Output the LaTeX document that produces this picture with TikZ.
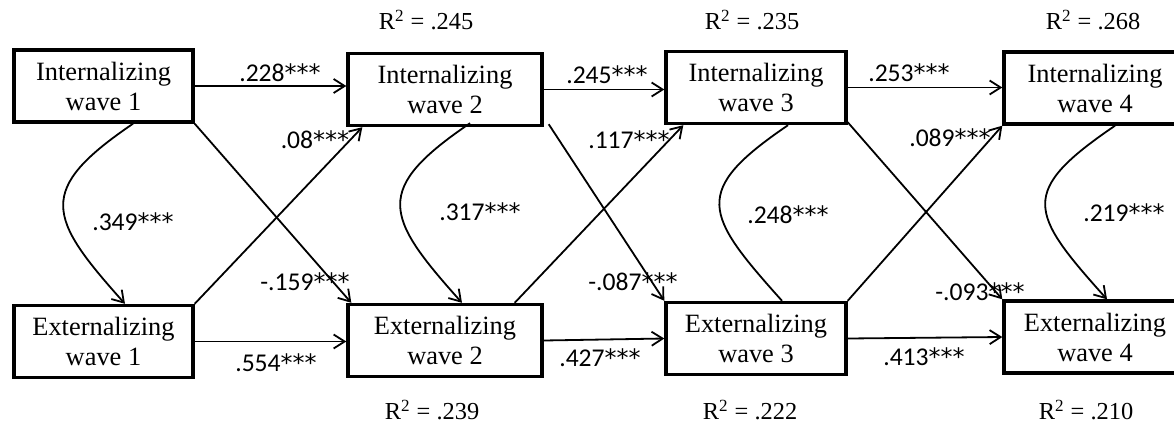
\documentclass[tikz,border=0pt]{standalone}
\usepackage{fontspec}
\setmainfont{Liberation Serif}
\newfontfamily\lblfont{Carlito}
\newfontfamily\starfont{DejaVu Sans}
\newcommand\mystars{{\starfont\fontsize{12}{14}\selectfont ***}}
\usetikzlibrary{arrows.meta,calc}
\begin{document}
\begin{tikzpicture}[x=0.5pt,y=-0.5pt,
  box/.style={draw,line width=1.7pt,minimum height=36pt,inner sep=0pt,align=center,font=\fontsize{13.2}{15}\selectfont},
  arr/.style={line width=0.9pt,-{Straight Barb[length=5.5pt,width=7pt]}},
  link/.style={line width=0.9pt},
  coef/.style={font=\lblfont\fontsize{12.8}{14}\selectfont,inner sep=0pt},
  rsq/.style={font=\fontsize{12.2}{14}\selectfont,inner sep=0pt}]
\useasboundingbox (0,0) rectangle (1174,424);
% boxes
\node[box,minimum width=89.5pt] (IW1) at (103.5,86) {Internalizing\\wave 1};
\node[box,minimum width=89.5pt] (EW1) at (103.5,341.5) {Externalizing\\wave 1};
\node[box,minimum width=97pt] (IW2) at (445,89.5) {Internalizing\\wave 2};
\node[box,minimum width=97pt] (EW2) at (445,340.5) {Externalizing\\wave 2};
\node[box,minimum width=90pt] (IW3) at (756,87.5) {Internalizing\\wave 3};
\node[box,minimum width=90pt] (EW3) at (756,338.5) {Externalizing\\wave 3};
\node[box,minimum width=91pt] (IW4) at (1095,88) {Internalizing\\wave 4};
\node[box,minimum width=91pt] (EW4) at (1095,337) {Externalizing\\wave 4};
% horizontal paths
\draw[arr] (IW1.east) -- (IW1.east -| IW2.west);
\draw[arr] (EW1.east) -- (EW1.east -| EW2.west);
\draw[arr] (IW2.east) -- (IW2.east -| IW3.west);
\draw[arr] (EW2.east) -- (EW3.west);
\draw[arr] (IW3.east) -- (IW3.east -| IW4.west);
\draw[arr] (EW3.east) -- (EW4.west);
% cross-lagged paths
\draw[arr] (IW1.south east) -- ([xshift=2.5pt]EW2.north west);
\draw[arr] (EW1.north east) -- ([xshift=8pt]IW2.south west);
\draw[arr] ([xshift=2.5pt,yshift=1.5pt]IW2.south east) -- (EW3.north west);
\draw[arr] ([xshift=-14.5pt]EW2.north east) -- ([xshift=9.5pt]IW3.south west);
\draw[arr] ([yshift=1.5pt]IW3.south east) -- (EW4.north west);
\draw[arr] (EW3.north east) -- (IW4.south west);
% within-wave curves
\coordinate (c1s) at ([xshift=14.75pt]IW1.south);
\coordinate (c1e) at ([xshift=10.75pt]EW1.north);
\draw[arr] (c1s) .. controls ($(c1s)+(-97,66)$) and ($(c1e)+(-78,-87)$) .. (c1e);
\coordinate (c2s) at ([xshift=12.5pt,yshift=2pt]IW2.south);
\coordinate (c2e) at ([xshift=8.5pt]EW2.north);
\draw[arr] (c2s) .. controls ($(c2s)+(-97,66)$) and ($(c2e)+(-78,-87)$) .. (c2e);
\coordinate (c3s) at ([xshift=16pt]IW3.south);
\coordinate (c3e) at ([xshift=13pt]EW3.north);
\draw[link] (c3s) .. controls ($(c3s)+(-97,66)$) and ($(c3e)+(-78,-87)$) .. (c3e);
\coordinate (c4s) at ([xshift=10pt]IW4.south);
\coordinate (c4e) at ([xshift=6pt]EW4.north);
\draw[arr] (c4s) .. controls ($(c4s)+(-97,66)$) and ($(c4e)+(-78,-87)$) .. (c4e);
% coefficients
\node[coef] (l1) at (280,73) {.228\mystars};
\node[coef] (l2) at (315,140) {.08\mystars};
\node[coef] (l3) at (133,222) {.349\mystars};
\node[coef] (l4) at (305,282) {-.159\mystars};
\node[coef] (l5) at (276,363) {.554\mystars};
\node[coef] (l6) at (607,75) {.245\mystars};
\node[coef] (l7) at (629,140) {.117\mystars};
\node[coef] (l8) at (480,212) {.317\mystars};
\node[coef] (l9) at (633,282) {-.087\mystars};
\node[coef] (l10) at (600,358) {.427\mystars};
\node[coef] (l11) at (909,73) {.253\mystars};
\node[coef] (l12) at (950,138) {.089\mystars};
\node[coef] (l13) at (788,215) {.248\mystars};
\node[coef] (l14) at (1124,213) {.219\mystars};
\node[coef] (l15) at (980,292) {-.093\mystars};
\node[coef] (l16) at (924,357) {.413\mystars};
% R squared
\node[rsq] (r2) at (426,20) {R\textsuperscript{2} = .245};
\node[rsq] (r3) at (752,20) {R\textsuperscript{2} = .235};
\node[rsq] (r4) at (1093,20) {R\textsuperscript{2} = .268};
\node[rsq] (q2) at (432,410) {R\textsuperscript{2} = .239};
\node[rsq] (q3) at (750,410) {R\textsuperscript{2} = .222};
\node[rsq] (q4) at (1086,410) {R\textsuperscript{2} = .210};
\end{tikzpicture}
\end{document}
